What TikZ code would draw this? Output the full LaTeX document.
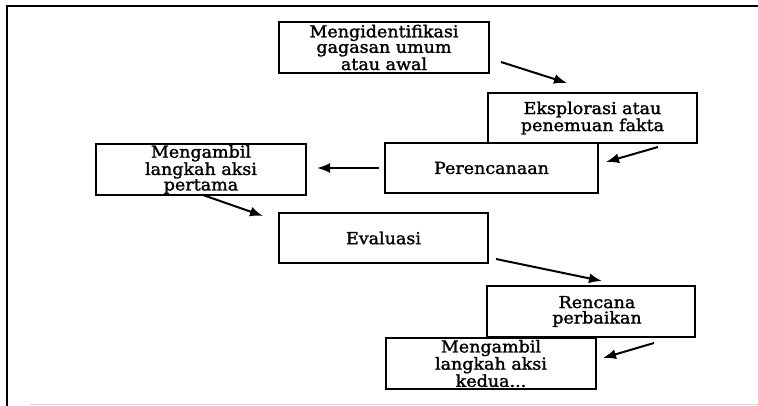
\documentclass[tikz,border=0pt]{standalone}
\usepackage{fontspec}
\newfontfamily\boxfont{DejaVu Serif}[FakeStretch=1.06,FakeBold=1.6]
\usetikzlibrary{arrows.meta}
\tikzset{
  x=1pt, y=-1pt,
  stepbox/.style={draw, line width=2pt, inner sep=0pt, align=center,
    font=\boxfont\fontsize{16.5}{15.5}\selectfont},
  arr/.style={line width=2pt, -{Latex[length=13pt,width=10pt]}},
  frame/.style={line width=2.4pt}
}
\begin{document}
\begin{tikzpicture}
\useasboundingbox (0,0) rectangle (758,406);
% frame
\draw[frame] (758,6) -- (7,6) -- (7,406);
\draw[line width=0.8pt, black!15] (30,404) -- (758,404);
% boxes
\node[stepbox, minimum width=210pt, minimum height=51pt] (b1) at (384,47.5) {Mengidentifikasi\\gagasan umum\\atau awal};
\node[stepbox, minimum width=209pt, minimum height=50pt] (b2) at (592.5,118) {Eksplorasi atau\\penemuan fakta};
\node[stepbox, minimum width=213pt, minimum height=50pt] (b3) at (491.5,168) {Perencanaan};
\node[stepbox, minimum width=210pt, minimum height=51pt] (b4) at (201,169.5) {Mengambil\\langkah aksi\\pertama};
\node[stepbox, minimum width=209pt, minimum height=50pt] (b5) at (383.5,238) {Evaluasi};
\node[stepbox, minimum width=208pt, minimum height=51pt] (b6) at (591,311.5) {\hspace*{12pt}Rencana\\\hspace*{12pt}perbaikan};
\node[stepbox, minimum width=210pt, minimum height=51pt] (b7) at (491,363.5) {Mengambil\\langkah aksi\\kedua...};
% arrow end points
\coordinate (a1s) at (501,62);  \coordinate (a1e) at (567,83);
\coordinate (a2s) at (658,147); \coordinate (a2e) at (606,162);
\coordinate (a3s) at (379,168); \coordinate (a3e) at (317,168);
\coordinate (a4s) at (203,195); \coordinate (a4e) at (263,216);
\coordinate (a5s) at (496,259); \coordinate (a5e) at (602,281);
\coordinate (a6s) at (654,343); \coordinate (a6e) at (603,358);
\draw[arr] (a1s) -- (a1e);
\draw[arr] (a2s) -- (a2e);
\draw[arr] (a3s) -- (a3e);
\draw[arr] (a4s) -- (a4e);
\draw[arr] (a5s) -- (a5e);
\draw[arr] (a6s) -- (a6e);
\end{tikzpicture}
\end{document}
